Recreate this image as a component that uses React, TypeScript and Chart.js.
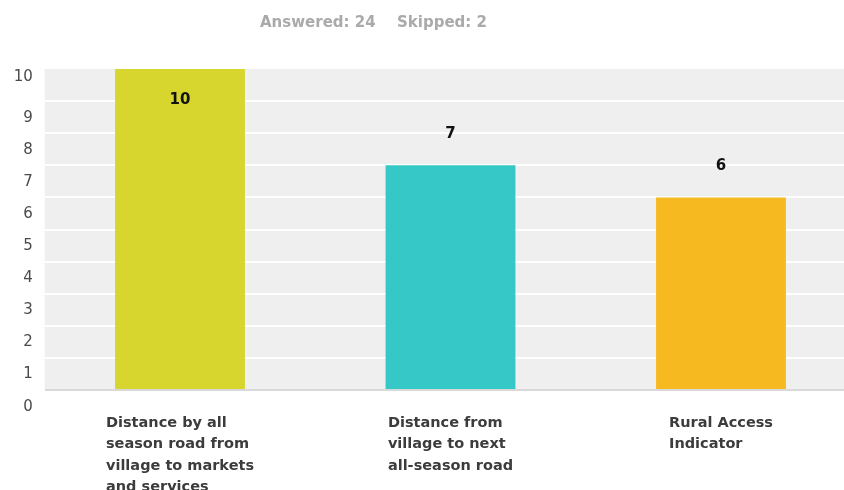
import React, { useEffect, useRef } from "react";
import { Chart, registerables } from "chart.js";

Chart.register(...registerables);

// ---- data ----
const categories: string[][] = [
  ["Distance by all", "season road from", "village to markets", "and services"],
  ["Distance from", "village to next", "all-season road"],
  ["Rural Access", "Indicator"],
];
const responses: number[] = [10, 7, 6];
const barColors: string[] = ["#d6d62e", "#36c7c7", "#f6b920"];
const answered = 24;
const skipped = 2;
const yMin = 0;
const yMax = 10;
const yStep = 1;

// ---- layout ----
const W = 862;
const H = 490;
const FONT = '"DejaVu Sans", "Liberation Sans", sans-serif';

const decorPlugin = {
  id: "decor",
  beforeDraw(chart: any) {
    const { ctx, chartArea: a } = chart;
    ctx.save();
    ctx.fillStyle = "#efefef";
    ctx.fillRect(a.left, a.top, a.right - a.left, a.bottom - a.top);
    ctx.restore();
  },
  afterDraw(chart: any) {
    const { ctx, chartArea: a } = chart;
    const xs = chart.scales.x;
    const ys = chart.scales.y;
    ctx.save();
    ctx.textBaseline = "alphabetic";

    // header
    ctx.font = `bold 15px ${FONT}`;
    ctx.fillStyle = "#aaaaaa";
    ctx.textAlign = "left";
    ctx.fillText(`Answered: ${answered}`, 260, 27);
    ctx.fillText(`Skipped: ${skipped}`, 397, 27);

    // y tick labels
    ctx.font = `15px ${FONT}`;
    ctx.fillStyle = "#4a4a4a";
    ctx.textAlign = "right";
    ys.ticks.forEach((t: any) => {
      const c = t.value === yMax ? a.top + 6 : ys.getPixelForValue(t.value) + 15;
      ctx.fillText(String(t.value), a.left - 12, c + 5.5);
    });

    // x category labels (block centred, lines left aligned)
    ctx.font = `bold 14.5px ${FONT}`;
    ctx.fillStyle = "#3c3c3c";
    ctx.textAlign = "left";
    categories.forEach((lines, i) => {
      const cx = xs.getPixelForValue(i);
      const w = Math.max(...lines.map((l) => ctx.measureText(l).width));
      lines.forEach((l, j) => ctx.fillText(l, cx - w / 2, a.bottom + 37 + j * 21.3));
    });

    // value labels
    ctx.font = `bold 15px ${FONT}`;
    ctx.fillStyle = "#111111";
    ctx.textAlign = "center";
    const meta = chart.getDatasetMeta(0);
    meta.data.forEach((bar: any, i: number) => {
      const top = ys.getPixelForValue(responses[i]);
      let base = top - 27;
      if (base - 12 < a.top) base = top + 35;
      ctx.fillText(String(responses[i]), bar.x, base);
    });
    ctx.restore();
  },
};

export default function App() {
  const ref = useRef<HTMLCanvasElement | null>(null);

  useEffect(() => {
    if (!ref.current) return;
    const chart = new Chart(ref.current, {
      type: "bar",
      data: {
        labels: categories,
        datasets: [
          {
            data: responses,
            backgroundColor: barColors,
            borderWidth: 0,
            barPercentage: 0.48,
            categoryPercentage: 1,
          },
        ],
      },
      options: {
        responsive: false,
        animation: false,
        events: [],
        layout: {
          padding: { left: 44.75, right: W - 856.25, top: 69, bottom: H - 390 },
        },
        plugins: {
          legend: { display: false },
          tooltip: { enabled: false },
          title: { display: false },
        },
        scales: {
          x: {
            display: false,
            offset: true,
            grid: { display: false, drawTicks: false },
          },
          y: {
            min: yMin,
            max: yMax,
            ticks: { display: false, stepSize: yStep },
            border: { display: false },
            grid: {
              drawTicks: false,
              lineWidth: 2,
              color: (c: any) =>
                c.tick && c.tick.value === yMin
                  ? "#d9d9d9"
                  : c.tick && c.tick.value === yMax
                  ? "rgba(0,0,0,0)"
                  : "#ffffff",
            },
          },
        },
      },
      plugins: [decorPlugin],
    });
    return () => chart.destroy();
  }, []);

  return (
    <div style={{ position: "fixed", left: 0, top: 0, width: W, height: H, background: "#fff" }}>
      <canvas ref={ref} width={W} height={H} style={{ display: "block" }} />
    </div>
  );
}
